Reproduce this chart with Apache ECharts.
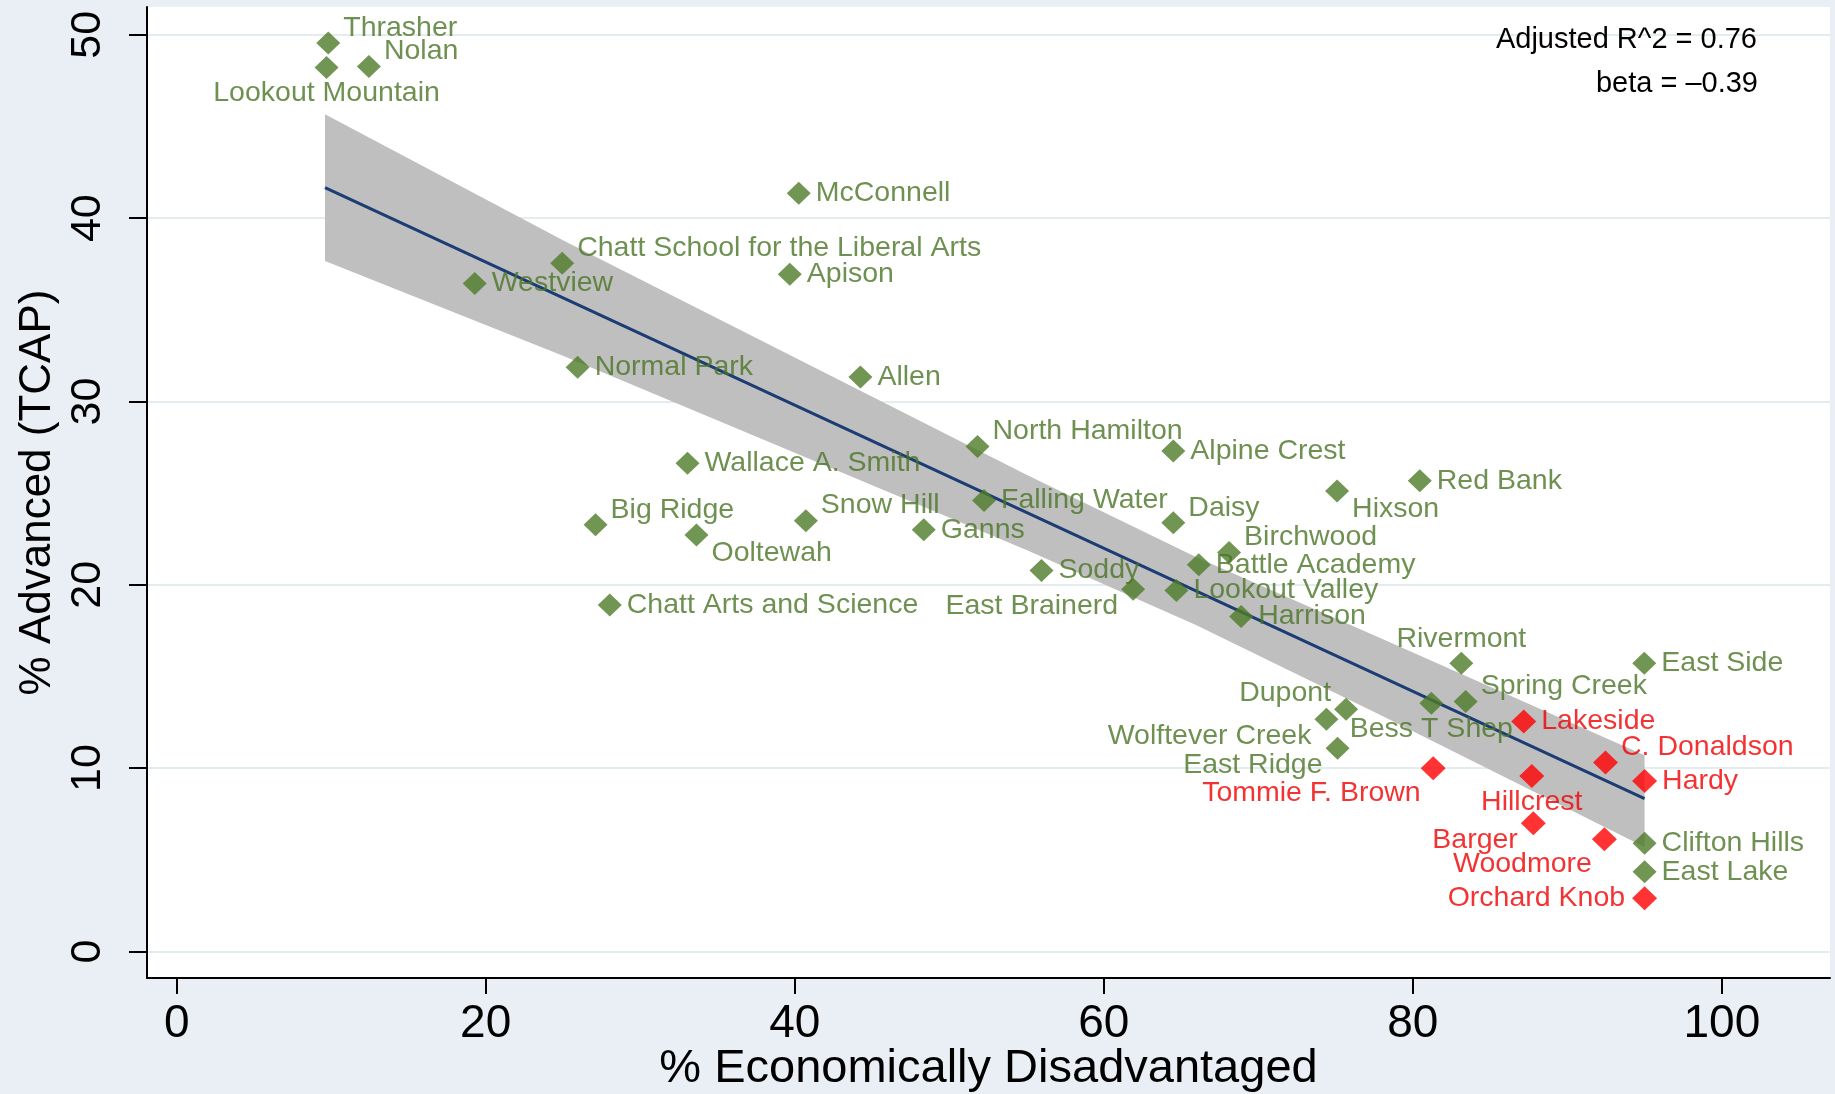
<!DOCTYPE html>
<html>
<head>
<meta charset="utf-8">
<script src="https://cdn.jsdelivr.net/npm/echarts@6/dist/echarts.min.js"></script>
<style>
html,body{margin:0;padding:0;background:#e9eff4;}
#chart{width:1835px;height:1094px;}
</style>
</head>
<body>
<div id="chart"></div>
<script>
// ---------------- data ----------------
const schools = [
  'Thrasher','Nolan','Lookout Mountain','McConnell','Chatt School for the Liberal Arts',
  'Westview','Apison','Normal Park','Allen','North Hamilton','Alpine Crest',
  'Wallace A. Smith','Red Bank','Hixson','Falling Water','Daisy','Snow Hill',
  'Big Ridge','Ganns','Ooltewah','Birchwood','Battle Academy','Soddy',
  'East Brainerd','Lookout Valley','Chatt Arts and Science','Harrison','Rivermont',
  'East Side','Spring Creek','Bess T Shep','Dupont','Wolftever Creek','East Ridge',
  'Clifton Hills','East Lake',
  'Lakeside','C. Donaldson','Tommie F. Brown','Hillcrest','Hardy','Barger',
  'Woodmore','Orchard Knob'
];
const pctEconDisadvantaged = [
  9.81, 12.44, 9.70, 40.26, 24.95,
  19.29, 39.68, 25.95, 44.25, 51.83, 64.5,
  33.06, 80.45, 75.1, 52.25, 64.5, 40.72,
  27.11, 48.35, 33.64, 68.11, 66.15, 55.97,
  61.9, 64.7, 28.03, 68.89, 83.14,
  94.98, 83.42, 81.2, 75.68, 74.41, 75.13,
  95.0, 95.0,
  87.18, 92.47, 81.32, 87.7, 95.0, 87.8,
  92.4, 95.0
];
const pctAdvancedTCAP = [
  49.55, 48.27, 48.22, 41.36, 37.54,
  36.43, 36.94, 31.87, 31.33, 27.54, 27.3,
  26.63, 25.67, 25.12, 24.6, 23.39, 23.5,
  23.27, 23.0, 22.72, 21.76, 21.09, 20.78,
  19.76, 19.69, 18.9, 18.27, 15.72,
  15.72, 13.63, 13.54, 13.21, 12.67, 11.09,
  5.9, 4.35,
  12.54, 10.3, 9.99, 9.57, 9.3, 6.99,
  6.12, 2.9
];
// 1 = highlighted (red) school
const highlighted = [
  0,0,0,0,0, 0,0,0,0,0,0, 0,0,0,0,0,0, 0,0,0,0,0,0,
  0,0,0,0,0, 0,0,0,0,0,0, 0,0,
  1,1,1,1,1,1, 1,1
];
const xTicks = [0, 20, 40, 60, 80, 100];
const yTicks = [0, 10, 20, 30, 40, 50];
// fitted line end points and confidence band
const fitX = [9.6, 95.0];
const fitY = [41.67, 8.33];
const bandX = [9.6, 25, 40, 55, 66, 78, 95];
const bandLower = [37.67, 32.5, 27.2, 21.9, 17.8, 12.85, 5.7];
const bandUpper = [45.67, 38.8, 32.4, 26.0, 21.5, 17.05, 10.7];
const fitStats = ['Adjusted R^2 = 0.76', 'beta = \u20130.39'];

// ---------------- label placement (clock positions, style only) ----------------
const labelClock = [
  2,2,6,3,2, 3,3,3,3,2,3, 3,3,4,3,2,2, 2,3,4,2,3,3,
  8,3,3,3,12, 3,2,6,10,8,8, 3,3,
  3,2,7,6,3,8, 7,9
];

const FONT = '"Liberation Sans", Arial, Helvetica, sans-serif';
const GREEN = '#4e7a27';
const GREEN_TXT = '#4a7424';
const RED = '#ff0000';
const RED_TXT = '#f00000';
const LABEL_SIZE = 28.5;

function labelFor(clock, color) {
  const base = {show: true, formatter: '{b}', color: color, fontSize: LABEL_SIZE, fontFamily: FONT};
  switch (clock) {
    case 1: case 2: return Object.assign(base, {position: 'right', distance: 3, offset: [0, -15]});
    case 3: return Object.assign(base, {position: 'right', distance: 5});
    case 4: return Object.assign(base, {position: 'right', distance: 3, offset: [0, 18]});
    case 6: return Object.assign(base, {position: 'bottom', distance: 0});
    case 7: return Object.assign(base, {position: 'left', distance: 0, offset: [0, 25]});
    case 8: return Object.assign(base, {position: 'left', distance: 3, offset: [0, 17]});
    case 9: return Object.assign(base, {position: 'left', distance: 7});
    case 10: return Object.assign(base, {position: 'left', distance: 3, offset: [0, -16]});
    case 12: return Object.assign(base, {position: 'top', distance: -2});
  }
  return base;
}

function pointsFor(flag) {
  const out = [];
  schools.forEach(function (name, i) {
    if (highlighted[i] !== flag) return;
    out.push({
      name: name,
      value: [pctEconDisadvantaged[i], pctAdvancedTCAP[i]],
      label: labelFor(labelClock[i], flag ? RED_TXT : GREEN_TXT)
    });
  });
  return out;
}

const chart = echarts.init(document.getElementById('chart'), null, {renderer: 'canvas'});

const option = {
  animation: false,
  backgroundColor: '#e9eff4',
  textStyle: {fontFamily: FONT},
  grid: {
    left: 147, right: 5, top: 7, bottom: 116,
    show: true, backgroundColor: '#ffffff', borderWidth: 0,
    containLabel: false, outerBoundsMode: 'none'
  },
  xAxis: {
    type: 'value', min: -1.92, max: 107.0,
    axisLine: {show: true, onZero: false, lineStyle: {color: '#000', width: 2}},
    axisTick: {show: true, customValues: xTicks, length: 16, lineStyle: {color: '#000', width: 2}},
    axisLabel: {customValues: xTicks, fontSize: 46, color: '#000', margin: 23, fontFamily: FONT},
    splitLine: {show: false},
    name: '% Economically Disadvantaged', nameLocation: 'middle', nameGap: 68,
    nameMoveOverlap: false,
    nameTextStyle: {fontSize: 47, color: '#000', fontFamily: FONT}
  },
  yAxis: {
    type: 'value', min: -1.45, max: 51.52,
    axisLine: {show: true, onZero: false, lineStyle: {color: '#000', width: 2}},
    axisTick: {show: true, customValues: yTicks, length: 18, lineStyle: {color: '#000', width: 2}},
    axisLabel: {customValues: yTicks, rotate: 90, fontSize: 43, color: '#000', margin: 37, fontFamily: FONT},
    splitLine: {show: true, lineStyle: {color: '#e3ecef', width: 2}},
    name: '% Advanced (TCAP)', nameLocation: 'middle', nameGap: 87,
    nameMoveOverlap: false,
    nameTextStyle: {fontSize: 44, color: '#000', fontFamily: FONT}
  },
  graphic: [
    {type: 'text', right: 78, top: 25, z: 100,
     style: {text: fitStats[0], fontSize: 29, fontFamily: FONT, fill: '#000'}},
    {type: 'text', right: 77, top: 69, z: 100,
     style: {text: fitStats[1], fontSize: 29, fontFamily: FONT, fill: '#000'}}
  ],
  series: [
    {
      type: 'custom', z: 1, silent: true,
      data: bandX.map(function (x, i) { return [x, bandLower[i], bandUpper[i]]; }),
      encode: {x: 0, y: [1, 2]},
      renderItem: function (params, api) {
        if (params.dataIndex !== 0) return null;
        const up = bandX.map(function (x, i) { return api.coord([x, bandUpper[i]]); });
        const lo = bandX.map(function (x, i) { return api.coord([x, bandLower[i]]); }).reverse();
        return {type: 'polygon', shape: {points: up.concat(lo)}, style: {fill: '#bfbfbf'}};
      }
    },
    {
      type: 'line', z: 2, silent: true, symbol: 'none',
      data: fitX.map(function (x, i) { return [x, fitY[i]]; }),
      lineStyle: {color: '#1b3d73', width: 3}
    },
    {
      type: 'scatter', z: 3, symbol: 'diamond', symbolSize: [24, 23],
      itemStyle: {color: GREEN},
      data: pointsFor(0)
    },
    {
      type: 'scatter', z: 4, symbol: 'diamond', symbolSize: [25, 24],
      itemStyle: {color: RED},
      data: pointsFor(1)
    }
  ]
};
chart.setOption(option);
</script>
</body>
</html>
